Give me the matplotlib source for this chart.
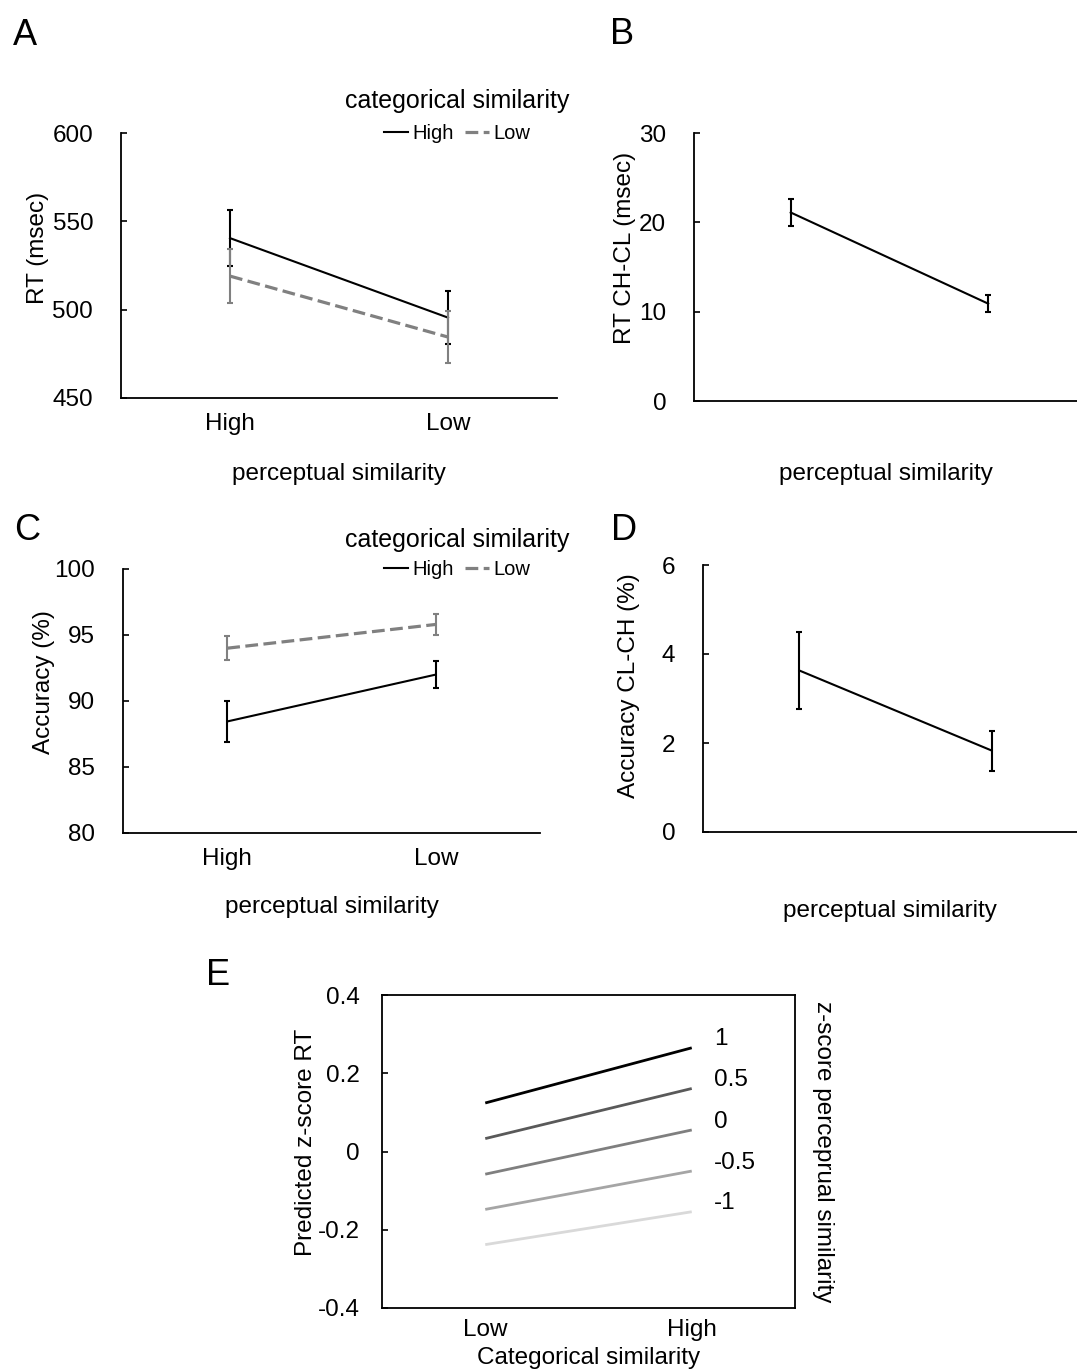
"""Reaction time and accuracy by perceptual / categorical similarity (panels A-E)."""

import matplotlib

matplotlib.use("Agg")

import matplotlib.pyplot as plt
from matplotlib.ticker import FuncFormatter

plt.rcParams["font.family"] = ["Liberation Sans", "DejaVu Sans"]
plt.rcParams["axes.unicode_minus"] = False

# perceptual similarity levels on the x axis of A-D
percept_levels = ["High", "Low"]

# A: RT (msec) by categorical similarity
rt_cat_high = [540.5, 495.5]
rt_cat_high_se = [16.0, 15.0]
rt_cat_low = [519.0, 484.5]
rt_cat_low_se = [15.5, 14.5]

# B: RT difference CH-CL (msec)
rt_diff = [21.1, 10.9]
rt_diff_se = [1.55, 0.95]

# C: accuracy (%) by categorical similarity
acc_cat_high = [88.45, 92.0]
acc_cat_high_se = [1.55, 1.0]
acc_cat_low = [94.0, 95.8]
acc_cat_low_se = [0.9, 0.8]

# D: accuracy difference CL-CH (%)
acc_diff = [3.63, 1.83]
acc_diff_se = [0.87, 0.45]

# E: predicted z-score RT for several z-scored perceptual similarity levels
cat_levels = ["Low", "High"]
z_levels = ["1", "0.5", "0", "-0.5", "-1"]
pred_at_low = [0.124, 0.033, -0.058, -0.148, -0.238]
pred_at_high = [0.265, 0.161, 0.055, -0.050, -0.154]
z_colors = ["#000000", "#595959", "#7f7f7f", "#a5a5a5", "#d9d9d9"]

W, H = 1077, 1372
GRAY = "#808080"
FS = 17.5

fig = plt.figure(figsize=(W / 100, H / 100), dpi=100)


def px_axes(left, top, right, bottom):
    return fig.add_axes([left / W, 1 - bottom / H, (right - left) / W, (bottom - top) / H])


def style_axes(ax, box=False):
    for side in ("top", "right"):
        ax.spines[side].set_visible(box)
    for sp in ax.spines.values():
        sp.set_linewidth(1.3)
    ax.tick_params(axis="y", direction="in", length=4, width=1.2, pad=20, labelsize=FS)
    ax.tick_params(axis="x", length=0, pad=11, labelsize=FS)


def draw_series(ax, x, y, se, color, dashed=False, lw=1.5):
    ax.errorbar(x, y, yerr=se, fmt="none", ecolor=color, elinewidth=1.5,
                capsize=2.5, capthick=1.5)
    if dashed:
        (line,) = ax.plot(x, y, color=color, lw=2.3, dashes=(4, 1.7))
    else:
        (line,) = ax.plot(x, y, color=color, lw=lw)
    return line


def add_legend(ax, handles, x_px, y_px, spacing):
    ax.legend(handles, ["High", "Low"], title="categorical similarity", ncol=2,
              frameon=False, loc="upper center",
              bbox_to_anchor=(x_px / W, 1 - y_px / H), bbox_transform=fig.transFigure,
              fontsize=14.5, title_fontsize=18, handlelength=1.2,
              handletextpad=0.2, columnspacing=0.55, borderpad=0,
              borderaxespad=0, labelspacing=spacing)


x = [0, 1]

# ---- A ----
axA = px_axes(121, 133, 557, 398)
h1 = draw_series(axA, x, rt_cat_high, rt_cat_high_se, "black")
h2 = draw_series(axA, x, rt_cat_low, rt_cat_low_se, GRAY, dashed=True)
axA.set_xlim(-0.5, 1.5)
axA.set_ylim(450, 600)
axA.set_yticks([450, 500, 550, 600])
axA.set_xticks(x)
axA.set_xticklabels(percept_levels)
style_axes(axA)
axA.set_ylabel("RT (msec)", fontsize=FS)
axA.yaxis.set_label_coords(-0.165, 0.566)
axA.set_xlabel("perceptual similarity", fontsize=FS)
axA.xaxis.set_label_coords(0.5, -0.247)
add_legend(axA, [h1, h2], 457, 89, 0.57)

# ---- B ----
axB = px_axes(694, 133, 1077, 401)
draw_series(axB, x, rt_diff, rt_diff_se, "black")
axB.set_xlim(-0.49, 1.45)
axB.set_ylim(0, 30)
axB.set_yticks([0, 10, 20, 30])
axB.set_xticks([])
style_axes(axB)
axB.set_ylabel("RT CH-CL (msec)", fontsize=FS)
axB.yaxis.set_label_coords(-0.151, 0.571)
axB.set_xlabel("perceptual similarity", fontsize=FS)
axB.xaxis.set_label_coords(0.5, -0.233)

# ---- C ----
axC = px_axes(123, 569, 540, 833)
h1 = draw_series(axC, x, acc_cat_high, acc_cat_high_se, "black")
h2 = draw_series(axC, x, acc_cat_low, acc_cat_low_se, GRAY, dashed=True)
axC.set_xlim(-0.5, 1.5)
axC.set_ylim(80, 100)
axC.set_yticks([80, 85, 90, 95, 100])
axC.set_xticks(x)
axC.set_xticklabels(percept_levels)
style_axes(axC)
axC.set_ylabel("Accuracy (%)", fontsize=FS)
axC.yaxis.set_label_coords(-0.163, 0.572)
axC.set_xlabel("perceptual similarity", fontsize=FS)
axC.xaxis.set_label_coords(0.5, -0.240)
add_legend(axC, [h1, h2], 457, 528, 0.39)

# ---- D ----
axD = px_axes(703, 565, 1077, 832)
draw_series(axD, x, acc_diff, acc_diff_se, "black")
axD.set_xlim(-0.5, 1.443)
axD.set_ylim(0, 6)
axD.set_yticks([0, 2, 4, 6])
axD.set_xticks([])
style_axes(axD)
axD.set_ylabel("Accuracy CL-CH (%)", fontsize=FS)
axD.yaxis.set_label_coords(-0.168, 0.547)
axD.set_xlabel("perceptual similarity", fontsize=FS)
axD.xaxis.set_label_coords(0.5, -0.253)

# ---- E ----
axE = px_axes(382, 995, 795, 1308)
for lab, lo, hi, col in zip(z_levels, pred_at_low, pred_at_high, z_colors):
    axE.plot(x, [lo, hi], color=col, lw=2.0, solid_capstyle="butt")
    axE.annotate(lab, (1, hi), xytext=(16, 6), textcoords="offset points",
                 fontsize=FS, ha="left", va="center")
axE.set_xlim(-0.5, 1.5)
axE.set_ylim(-0.4, 0.4)
axE.set_yticks([-0.4, -0.2, 0, 0.2, 0.4])
axE.yaxis.set_major_formatter(FuncFormatter(lambda v, _: f"{v:g}" if abs(v) > 1e-9 else "0"))
axE.set_xticks(x)
axE.set_xticklabels(cat_levels)
style_axes(axE, box=True)
axE.tick_params(axis="y", pad=16)
axE.tick_params(axis="x", pad=8)
axE.set_ylabel("Predicted z-score RT", fontsize=FS)
axE.yaxis.set_label_coords(-0.157, 0.53)
axE.set_xlabel("Categorical similarity", fontsize=FS)
axE.xaxis.set_label_coords(0.5, -0.125)
axE.text(1.068, 0.5, "z-score perceprual similarity", transform=axE.transAxes,
         rotation=270, ha="center", va="center", fontsize=FS)

# panel letters
for letter, lx, ly in [("A", 13, 45), ("B", 610, 44), ("C", 14, 540),
                       ("D", 611, 540), ("E", 206, 985)]:
    fig.text(lx / W, 1 - ly / H, letter, fontsize=26, ha="left", va="baseline")

fig.savefig("out.png", dpi=100)
